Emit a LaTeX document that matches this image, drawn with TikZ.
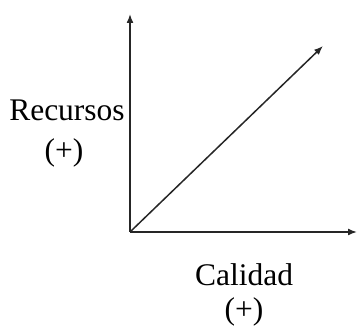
\documentclass[tikz,border=0pt]{standalone}
\usepackage{fontspec}
\setmainfont{Liberation Serif}
\usetikzlibrary{arrows.meta}
\begin{document}
\begin{tikzpicture}[x=1pt,y=-1pt,
  axis/.style={line width=1.5pt,draw=black!85,-{Latex[length=9pt,width=7pt]}},
  lbl/.style={font=\fontsize{31.5}{36}\selectfont,inner sep=0pt,anchor=base}]
\useasboundingbox (0,0) rectangle (357,328);
\coordinate (o) at (130,232);
\coordinate (ytip) at (130,14);
\coordinate (xtip) at (357,232);
\coordinate (dtip) at (323,46);
\draw[axis] (o) -- (ytip);
\draw[axis] (o) -- (xtip);
\draw[axis] (o) -- (dtip);
\node[lbl] (rec) at (67,121) {Recursos};
\node[lbl] (recp) at (64,161) {(+)};
\node[lbl] (cal) at (244,286) {Calidad};
\node[lbl] (calp) at (244,320) {(+)};
\end{tikzpicture}
\end{document}
